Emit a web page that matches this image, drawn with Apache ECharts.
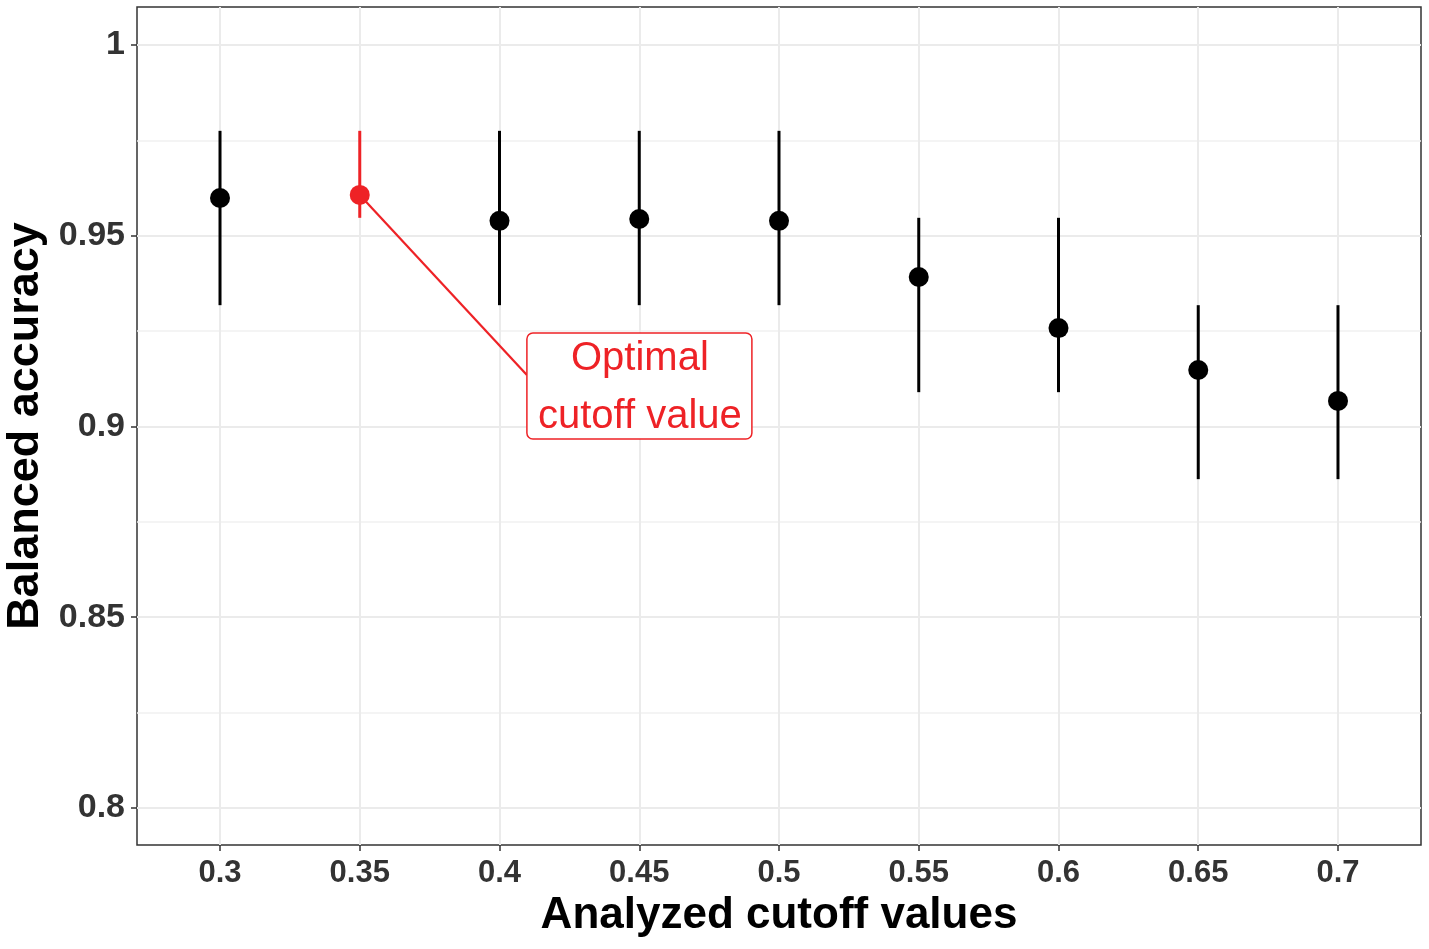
<!DOCTYPE html>
<html>
<head>
<meta charset="utf-8">
<script src="https://cdn.jsdelivr.net/npm/echarts@6/dist/echarts.min.js"></script>
<style>
  html, body { margin: 0; padding: 0; background: #fff; }
  #chart { width: 1429px; height: 949px; }
</style>
</head>
<body>
<div id="chart"></div>
<script>
// cutoff values on the x axis and balanced accuracy with its interval
var cutoffs = [0.3, 0.35, 0.4, 0.45, 0.5, 0.55, 0.6, 0.65, 0.7];
var accuracy = [0.9599, 0.9607, 0.9539, 0.9544, 0.9539, 0.9392, 0.9258, 0.9148, 0.9067];
var lower = [0.9318, 0.9547, 0.9318, 0.9318, 0.9318, 0.9090, 0.9090, 0.8862, 0.8862];
var upper = [0.9775, 0.9775, 0.9775, 0.9775, 0.9775, 0.9547, 0.9547, 0.9318, 0.9318];
var yTicks = [0.8, 0.85, 0.9, 0.95, 1];
var yMinorTicks = [0.825, 0.875, 0.925, 0.975];
var optimalIndex = 1;
var annotationText = ['Optimal', 'cutoff value'];
var annotationAnchor = [0.4098, 0.9135];

var red = '#ee2226';
var fontFamily = 'Liberation Sans, Arial, sans-serif';

var chart = echarts.init(document.getElementById('chart'));

var barData = cutoffs.map(function (c, i) {
    return [c, lower[i], upper[i], i === optimalIndex ? 1 : 0];
});
var pointData = cutoffs.map(function (c, i) {
    return {
        value: [c, accuracy[i]],
        itemStyle: { color: i === optimalIndex ? red : '#000', opacity: 1 }
    };
});

chart.setOption({
    animation: false,
    grid: {
        left: 137, right: 8, top: 7, bottom: 104,
        outerBoundsMode: 'none',
        containLabel: false,
        show: true,
        borderColor: '#333',
        borderWidth: 1.5,
        backgroundColor: '#fff'
    },
    xAxis: {
        type: 'value',
        min: 0.2703,
        max: 0.7297,
        name: 'Analyzed cutoff values',
        nameLocation: 'middle',
        nameGap: 46,
        nameTextStyle: { fontSize: 44, fontWeight: 'bold', color: '#000', fontFamily: fontFamily },
        axisLine: { show: false },
        axisTick: {
            show: true, length: 6, customValues: cutoffs,
            lineStyle: { color: '#333', width: 1.5 }
        },
        axisLabel: {
            customValues: cutoffs,
            margin: 13,
            fontSize: 31,
            fontWeight: 'bold',
            color: '#333',
            fontFamily: fontFamily
        },
        splitLine: { show: true, lineStyle: { color: '#ebebeb', width: 2 } }
    },
    yAxis: [{
        type: 'value',
        min: 0.7903,
        max: 1.00996,
        name: 'Balanced accuracy',
        nameLocation: 'middle',
        nameGap: 86,
        nameTextStyle: { fontSize: 45, fontWeight: 'bold', color: '#000', fontFamily: fontFamily },
        axisLine: { show: false },
        axisTick: {
            show: true, length: 6, customValues: yTicks,
            lineStyle: { color: '#333', width: 1.5 }
        },
        axisLabel: {
            customValues: yTicks,
            margin: 12,
            fontSize: 34,
            fontWeight: 'bold',
            color: '#333',
            fontFamily: fontFamily
        },
        splitLine: { show: true, lineStyle: { color: '#ebebeb', width: 2 } }
    }, {
        type: 'value',
        position: 'left',
        min: 0.7903,
        max: 1.00996,
        axisLine: { show: false },
        axisTick: { show: false, customValues: yMinorTicks },
        axisLabel: { show: false, customValues: yMinorTicks },
        splitLine: { show: true, lineStyle: { color: '#f0f0f0', width: 1.5 } }
    }],
    series: [{
        type: 'custom',
        name: 'interval',
        z: 2,
        data: barData,
        renderItem: function (params, api) {
            var p1 = api.coord([api.value(0), api.value(1)]);
            var p2 = api.coord([api.value(0), api.value(2)]);
            return {
                type: 'line',
                shape: { x1: p1[0], y1: p1[1], x2: p2[0], y2: p2[1] },
                style: { stroke: api.value(3) ? red : '#000', lineWidth: 3 }
            };
        }
    }, {
        type: 'custom',
        name: 'annotation',
        z: 3,
        data: [[cutoffs[optimalIndex], accuracy[optimalIndex], annotationAnchor[0], annotationAnchor[1]]],
        renderItem: function (params, api) {
            var from = api.coord([api.value(0), api.value(1)]);
            var to = api.coord([api.value(2), api.value(3)]);
            return {
                type: 'group',
                children: [{
                    type: 'line',
                    shape: { x1: from[0], y1: from[1], x2: to[0], y2: to[1] },
                    style: { stroke: red, lineWidth: 2.2 }
                }, {
                    type: 'rect',
                    shape: { x: to[0], y: to[1] - 42, width: 225, height: 106, r: 6 },
                    style: { fill: '#fff', stroke: red, lineWidth: 1.5 }
                }, {
                    type: 'text',
                    style: {
                        x: to[0] + 113, y: to[1] - 16,
                        text: annotationText[0],
                        fill: red, fontSize: 40, fontFamily: fontFamily,
                        align: 'center', verticalAlign: 'middle'
                    }
                }, {
                    type: 'text',
                    style: {
                        x: to[0] + 113, y: to[1] + 42,
                        text: annotationText[1],
                        fill: red, fontSize: 40, fontFamily: fontFamily,
                        align: 'center', verticalAlign: 'middle'
                    }
                }]
            };
        }
    }, {
        type: 'scatter',
        name: 'accuracy',
        z: 4,
        symbolSize: 20,
        itemStyle: { opacity: 1 },
        data: pointData
    }]
});
</script>
</body>
</html>
